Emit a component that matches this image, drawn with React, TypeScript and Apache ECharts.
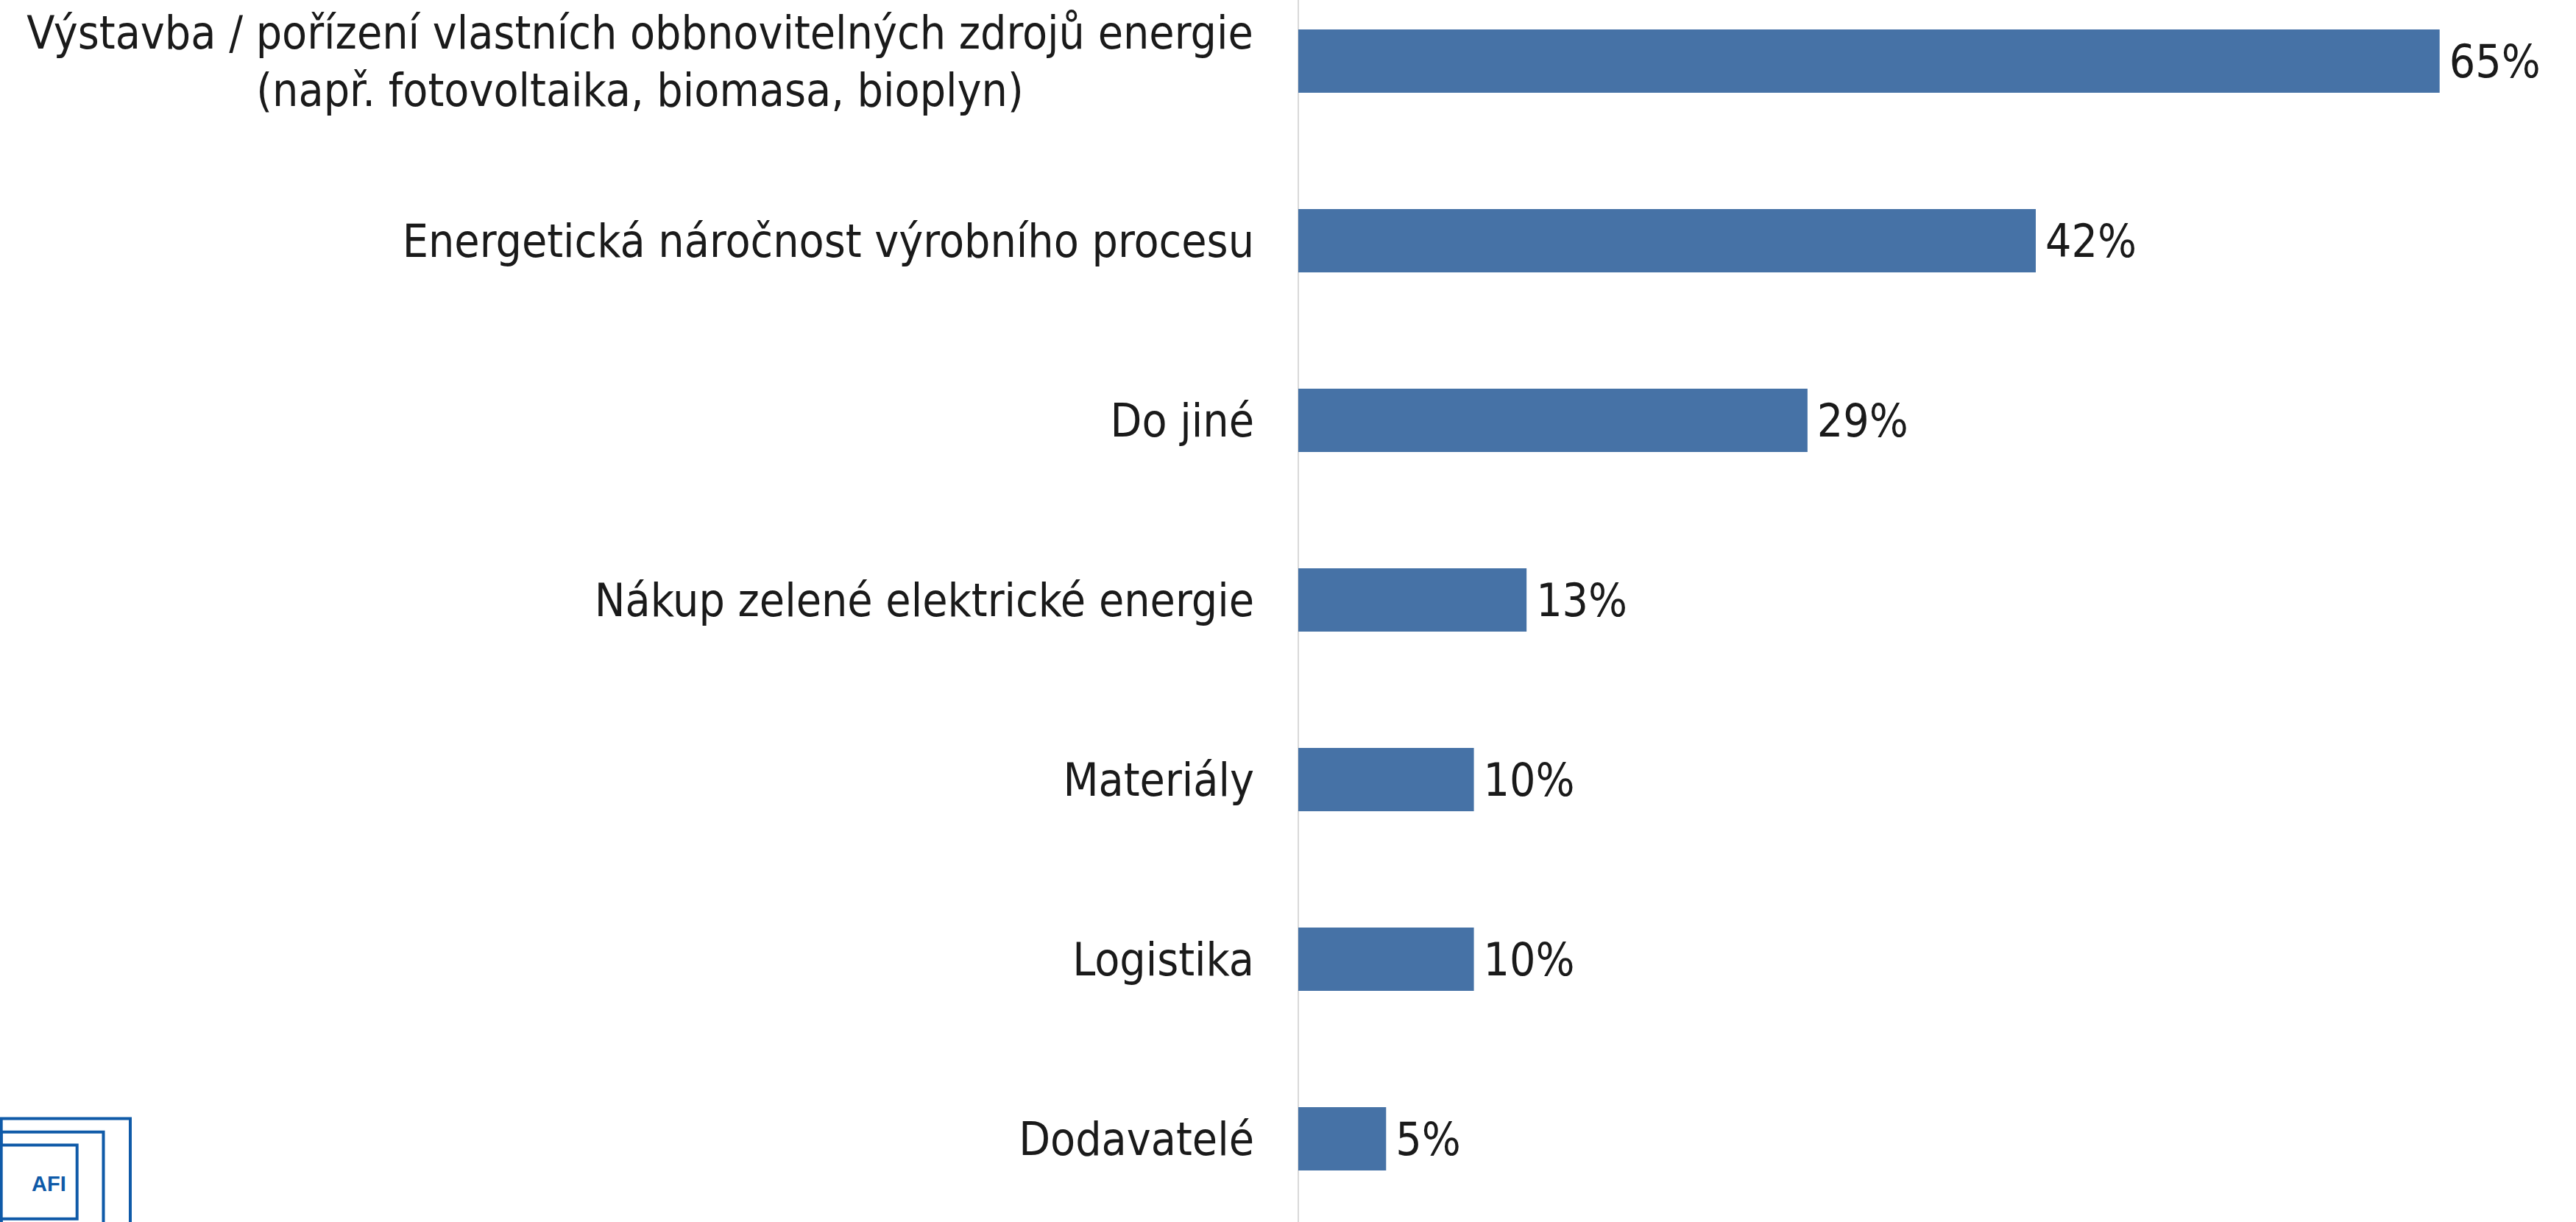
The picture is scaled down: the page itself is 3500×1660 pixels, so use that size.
import React, { useEffect, useRef } from "react";
import * as echarts from "echarts";

const categories = [
  "Výstavba / pořízení vlastních obbnovitelných zdrojů energie\n(např. fotovoltaika, biomasa, bioplyn)",
  "Energetická náročnost výrobního procesu",
  "Do jiné",
  "Nákup zelené elektrické energie",
  "Materiály",
  "Logistika",
  "Dodavatelé",
];
const values = [65, 42, 29, 13, 10, 10, 5];

const FONT = "'DejaVu Sans Condensed', 'Liberation Sans', sans-serif";
const FS = 62;
const LH = 78;
const TEXT = "#1a1a1a";
const BAR = "#4672A6";
const LOGO = "#0F5AA8";

export default function App() {
  const ref = useRef<HTMLDivElement>(null);
  useEffect(() => {
    document.body.style.margin = "0";
    if (!ref.current) return;
    const chart = echarts.init(ref.current, undefined, { renderer: "svg" });

    const cv = document.createElement("canvas");
    const ctx = cv.getContext("2d")!;
    ctx.font = `${FS}px ${FONT}`;
    let maxW = 0;
    categories.forEach((c) => {
      if (c.includes("\n")) {
        c.split("\n").forEach((l) => {
          maxW = Math.max(maxW, ctx.measureText(l).width);
        });
      }
    });
    maxW = Math.ceil(maxW) + 2;

    chart.setOption({
      animation: false,
      backgroundColor: "#ffffff",
      grid: {
        left: 1764,
        right: 66,
        top: -39,
        height: 1708,
        containLabel: false,
        outerBoundsMode: "none",
      },
      xAxis: {
        type: "value",
        min: 0,
        max: 70,
        show: false,
      },
      yAxis: {
        type: "category",
        data: categories,
        inverse: true,
        axisLine: { show: true, lineStyle: { color: "#D9D9D9", width: 2 } },
        axisTick: { show: false },
        splitLine: { show: false },
        axisLabel: {
          margin: 60,
          fontSize: FS,
          fontFamily: FONT,
          color: TEXT,
          lineHeight: LH,
          align: "right",
          formatter: (v: string) => {
            if (v.includes("\n")) {
              return v
                .split("\n")
                .map((l) => `{c|${l}}`)
                .join("\n");
            }
            return v;
          },
          rich: {
            c: {
              width: maxW,
              align: "center",
              fontSize: FS,
              fontFamily: FONT,
              color: TEXT,
              lineHeight: LH,
            },
          },
        },
      },
      series: [
        {
          type: "bar",
          data: values,
          barCategoryGap: "64.8%",
          itemStyle: { color: BAR },
          label: {
            show: true,
            position: "right",
            distance: 13,
            formatter: "{c}%",
            fontSize: FS,
            fontFamily: FONT,
            color: TEXT,
          },
        },
      ],
      graphic: [
        {
          type: "rect",
          shape: { x: 1.7, y: 1519.5, width: 175.3, height: 300 },
          style: { fill: "none", stroke: LOGO, lineWidth: 4 },
        },
        {
          type: "rect",
          shape: { x: 1.7, y: 1537.8, width: 138.8, height: 300 },
          style: { fill: "none", stroke: LOGO, lineWidth: 4 },
        },
        {
          type: "rect",
          shape: { x: 1.7, y: 1555.4, width: 103, height: 100.4 },
          style: { fill: "#ffffff", stroke: LOGO, lineWidth: 4 },
        },
        {
          type: "text",
          x: 43,
          y: 1608,
          style: {
            text: "AFI",
            font: "bold 29px 'Liberation Sans', Arial, sans-serif",
            fill: LOGO,
            textAlign: "left",
            textVerticalAlign: "middle",
          },
        },
      ],
    });
    return () => chart.dispose();
  }, []);
  return <div ref={ref} style={{ width: 3500, height: 1660 }} />;
}
